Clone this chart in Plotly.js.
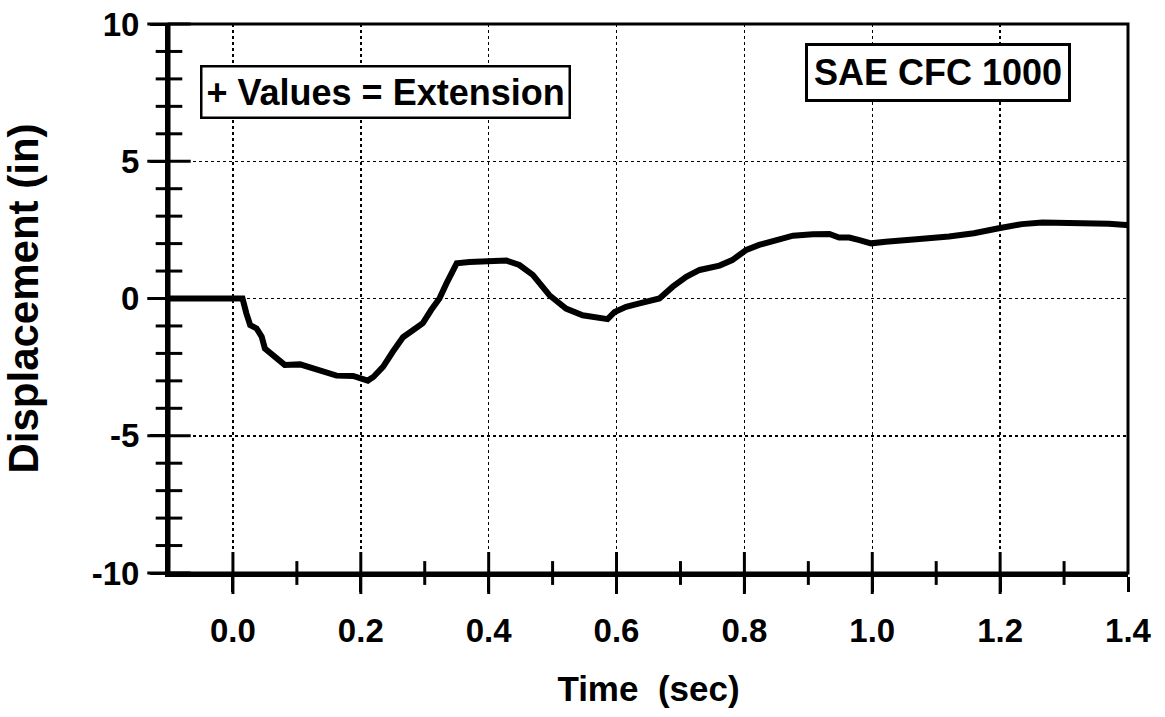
<!DOCTYPE html>
<html>
<head>
<meta charset="utf-8">
<script src="https://cdn.plot.ly/plotly-3.0.1.min.js"></script>
<style>html,body{margin:0;padding:0;background:#fff;}#chart{width:1165px;height:717px;}</style>
</head>
<body>
<div id="chart"></div>
<script>
// Time (sec)
const timeSec = [-0.1, 0.0, 0.015, 0.021, 0.027, 0.037, 0.045, 0.05, 0.06, 0.071, 0.081, 0.105, 0.131, 0.162, 0.188, 0.201, 0.211, 0.22, 0.235, 0.25, 0.266, 0.282, 0.297, 0.31, 0.323, 0.334, 0.35, 0.37, 0.402, 0.428, 0.448, 0.469, 0.495, 0.521, 0.547, 0.578, 0.586, 0.597, 0.615, 0.636, 0.667, 0.688, 0.709, 0.73, 0.761, 0.781, 0.803, 0.823, 0.85, 0.876, 0.907, 0.933, 0.948, 0.964, 0.98, 0.998, 1.021, 1.039, 1.069, 1.12, 1.159, 1.198, 1.234, 1.266, 1.328, 1.37, 1.397, 1.4];
// Displacement (in)
const dispIn = [0, 0, 0, -0.54, -0.97, -1.09, -1.39, -1.82, -2.02, -2.24, -2.42, -2.40, -2.6, -2.81, -2.82, -2.91, -2.99, -2.85, -2.48, -1.94, -1.41, -1.15, -0.9, -0.42, 0.0, 0.55, 1.28, 1.33, 1.37, 1.38, 1.22, 0.86, 0.12, -0.37, -0.61, -0.73, -0.75, -0.49, -0.30, -0.18, 0.0, 0.43, 0.79, 1.04, 1.2, 1.4, 1.77, 1.95, 2.13, 2.29, 2.34, 2.35, 2.22, 2.22, 2.13, 2.01, 2.07, 2.12, 2.16, 2.26, 2.38, 2.56, 2.71, 2.77, 2.77, 2.72, 2.68, 2.67];

const xRange = [-0.1, 1.4];
const yRange = [-10, 10];
// tick positions / labels
const xTickVals = [0.0, 0.2, 0.4, 0.6, 0.8, 1.0, 1.2, 1.4];
const xMajorTicks = [0.0, 0.2, 0.4, 0.6, 0.8, 1.0, 1.2];
const xMinorTicks = [0.1, 0.3, 0.5, 0.7, 0.9, 1.1, 1.3];
const yTickVals = [-10, -5, 0, 5, 10];
const yTickText = ["-10", "-5", "0", "5", "10"];
const yMinorTicks = [-9, -8, -7, -6, -4, -3, -2, -1, 1, 2, 3, 4, 6, 7, 8, 9];
const noteLeft = "+ Values = Extension";
const noteRight = "SAE CFC 1000";
const xTitle = "Time\u00a0 (sec)";
const yTitle = "Displacement (in)";

const FONT = "Liberation Sans, Arial, Helvetica, sans-serif";
const GRIDDASH = '3px,3px';

function crossTicks(xs, ys, symbol, size) {
  return {x: xs, y: ys, mode: 'markers', cliponaxis: false, hoverinfo: 'skip', showlegend: false,
          marker: {symbol: symbol, size: size, color: '#000', line: {color: '#000', width: 3}}};
}

const traces = [
  {x: timeSec, y: dispIn, mode: 'lines',
   line: {color: '#000', width: 6}, hoverinfo: 'skip', showlegend: false},
  // tick marks that cross the left and bottom axis lines
  crossTicks(yTickVals.map(() => xRange[0]), yTickVals, 'line-ew', 31),
  crossTicks(yMinorTicks.map(() => xRange[0]), yMinorTicks, 'line-ew', 19),
  crossTicks(xMajorTicks, xMajorTicks.map(() => yRange[0]), 'line-ns', 30),
  crossTicks(xMinorTicks, xMinorTicks.map(() => yRange[0]), 'line-ns', 17)
];

const layout = {
  width: 1165, height: 717,
  margin: {l: 169, r: 37, t: 24, b: 144},
  paper_bgcolor: '#fff', plot_bgcolor: '#fff',
  font: {family: FONT, color: '#000'},
  xaxis: {
    range: xRange, tickvals: xTickVals, tickformat: '.1f',
    ticks: 'outside', ticklen: 15, tickwidth: 3, tickcolor: '#000',
    showline: true, linewidth: 4, linecolor: '#000',
    showgrid: true, gridcolor: '#000', griddash: GRIDDASH, gridwidth: 1.5,
    zeroline: false,
    tickfont: {family: FONT, size: 33, weight: 'bold', color: '#000'},
    ticklabelstandoff: 10,
    title: {text: xTitle, font: {family: FONT, size: 35, weight: 'bold', color: '#000'}, standoff: 30}
  },
  yaxis: {
    range: yRange, tickvals: yTickVals, ticktext: yTickText,
    ticks: 'outside', ticklen: 15, tickwidth: 3, tickcolor: '#000',
    showline: true, linewidth: 4, linecolor: '#000',
    showgrid: true, gridcolor: '#000', griddash: GRIDDASH, gridwidth: 1.5,
    zeroline: false,
    tickfont: {family: FONT, size: 33, weight: 'bold', color: '#000'},
    ticklabelstandoff: 4,
    title: {text: yTitle, font: {family: FONT, size: 42, weight: 'bold', color: '#000'}, standoff: 42}
  },
  shapes: [
    {type: 'rect', xref: 'paper', yref: 'paper', x0: 0, x1: 1, y0: 0, y1: 1,
     line: {color: '#000', width: 3}, fillcolor: 'rgba(0,0,0,0)', layer: 'above'}
  ],
  annotations: [
    {text: noteLeft, xref: 'paper', yref: 'paper', x: 0.226, y: 0.876, xanchor: 'center', yanchor: 'middle',
     showarrow: false, font: {family: FONT, size: 36, weight: 'bold', color: '#000'},
     bordercolor: '#000', borderwidth: 2.5, borderpad: 4, bgcolor: '#fff'},
    {text: noteRight, xref: 'paper', yref: 'paper', x: 0.802, y: 0.911, xanchor: 'center', yanchor: 'middle',
     showarrow: false, font: {family: FONT, size: 36, weight: 'bold', color: '#000'},
     bordercolor: '#000', borderwidth: 3, borderpad: 6, bgcolor: '#fff'}
  ]
};

Plotly.newPlot('chart', traces, layout, {staticPlot: true, displayModeBar: false});
</script>
</body>
</html>
